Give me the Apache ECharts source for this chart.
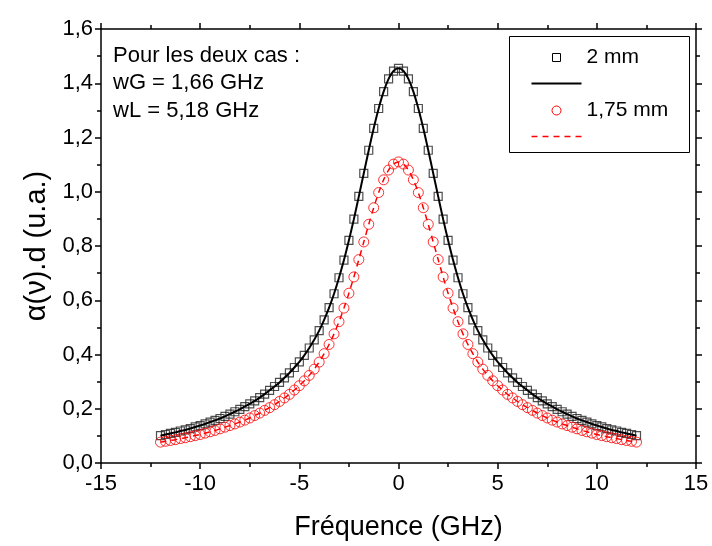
<!DOCTYPE html>
<html>
<head>
<meta charset="utf-8">
<script src="https://cdn.jsdelivr.net/npm/echarts@6/dist/echarts.min.js"></script>
<style>
html,body{margin:0;padding:0;background:#fff;}
#c{width:712px;height:546px;}
</style>
</head>
<body>
<div id="c"></div>
<script>
// Frequency grid (GHz)
var freq = [-12,-11.75,-11.5,-11.25,-11,-10.75,-10.5,-10.25,-10,-9.75,-9.5,-9.25,-9,-8.75,-8.5,-8.25,-8,-7.75,-7.5,-7.25,-7,-6.75,-6.5,-6.25,-6,-5.75,-5.5,-5.25,-5,-4.75,-4.5,-4.25,-4,-3.75,-3.5,-3.25,-3,-2.75,-2.5,-2.25,-2,-1.75,-1.5,-1.25,-1,-0.75,-0.5,-0.25,0,0.25,0.5,0.75,1,1.25,1.5,1.75,2,2.25,2.5,2.75,3,3.25,3.5,3.75,4,4.25,4.5,4.75,5,5.25,5.5,5.75,6,6.25,6.5,6.75,7,7.25,7.5,7.75,8,8.25,8.5,8.75,9,9.25,9.5,9.75,10,10.25,10.5,10.75,11,11.25,11.5,11.75,12];
// 2 mm (squares)
var val2mm = [0.101,0.105,0.109,0.113,0.118,0.122,0.127,0.133,0.138,0.144,0.151,0.157,0.164,0.172,0.180,0.189,0.198,0.208,0.218,0.229,0.241,0.254,0.268,0.282,0.297,0.314,0.332,0.352,0.373,0.397,0.424,0.454,0.488,0.528,0.573,0.624,0.683,0.748,0.821,0.899,0.983,1.068,1.153,1.234,1.307,1.369,1.416,1.445,1.455,1.445,1.416,1.369,1.307,1.234,1.153,1.068,0.983,0.899,0.821,0.748,0.683,0.624,0.573,0.528,0.488,0.454,0.424,0.397,0.373,0.352,0.332,0.314,0.297,0.282,0.268,0.254,0.241,0.229,0.218,0.208,0.198,0.189,0.180,0.172,0.164,0.157,0.151,0.144,0.138,0.133,0.127,0.122,0.118,0.113,0.109,0.105,0.101];
// 1,75 mm (circles)
var val175 = [0.077,0.080,0.083,0.086,0.090,0.093,0.097,0.101,0.105,0.110,0.115,0.120,0.126,0.132,0.138,0.144,0.151,0.158,0.166,0.175,0.184,0.194,0.204,0.215,0.227,0.240,0.253,0.269,0.285,0.303,0.323,0.346,0.372,0.403,0.437,0.476,0.521,0.571,0.626,0.686,0.750,0.815,0.880,0.941,0.997,1.044,1.080,1.102,1.110,1.102,1.080,1.044,0.997,0.941,0.880,0.815,0.750,0.686,0.626,0.571,0.521,0.476,0.437,0.403,0.372,0.346,0.323,0.303,0.285,0.269,0.253,0.240,0.227,0.215,0.204,0.194,0.184,0.175,0.166,0.158,0.151,0.144,0.138,0.132,0.126,0.120,0.115,0.110,0.105,0.101,0.097,0.093,0.090,0.086,0.083,0.080,0.077];
var fit2mm = val2mm;
var fit175 = val175;
var noteLines = ['Pour les deux cas :', 'wG = 1,66 GHz', 'wL = 5,18 GHz'];
var legendNames = ['2 mm', '1,75 mm'];

function pairs(xs, ys){ return xs.map(function(x,i){ return [x, ys[i]]; }); }
var FONT = 'Liberation Sans, Arial, sans-serif';
var comma = function(v){ return v.toFixed(1).replace('.', ','); };

var chart = echarts.init(document.getElementById('c'), null, {renderer:'canvas'});
var axisCommon = {
  axisLine:{show:true, onZero:false, lineStyle:{color:'#000', width:1.5}},
  axisTick:{show:true, inside:false, length:6, lineStyle:{color:'#000', width:1.5}},
  minorTick:{show:true, splitNumber:2, length:4, lineStyle:{color:'#000', width:1.5}},
  splitLine:{show:false}
};
var option = {
  backgroundColor:'#fff',
  animation:false,
  grid:{left:101, right:16, top:29, bottom:83, containLabel:false},
  xAxis:[
    Object.assign({type:'value', min:-15, max:15, interval:5, position:'bottom',
      name:'Fréquence (GHz)', nameLocation:'middle', nameGap:51,
      nameTextStyle:{fontFamily:FONT, fontSize:27, color:'#000'},
      axisLabel:{fontFamily:FONT, fontSize:22, color:'#000', margin:10}}, axisCommon),
    Object.assign({type:'value', min:-15, max:15, interval:5, position:'top',
      axisLabel:{show:false}}, axisCommon)
  ],
  yAxis:[
    Object.assign({type:'value', min:0, max:1.6, interval:0.2, position:'left',
      name:'α(ν).d (u.a.)', nameLocation:'middle', nameGap:50, nameRotate:90,
      nameTextStyle:{fontFamily:FONT, fontSize:29, color:'#000'},
      axisLabel:{fontFamily:FONT, fontSize:22, color:'#000', margin:8, formatter:comma}}, axisCommon),
    Object.assign({type:'value', min:0, max:1.6, interval:0.2, position:'right',
      axisLabel:{show:false}}, axisCommon)
  ],
  series:[
    {type:'line', name:'fit 2 mm', data:pairs(freq, fit2mm), smooth:0.3, showSymbol:false, symbol:'none',
      lineStyle:{color:'#000', width:2}, z:3},
    {type:'scatter', name:legendNames[0], data:pairs(freq, val2mm), symbol:'rect', symbolSize:8,
      itemStyle:{color:'rgba(0,0,0,0)', borderColor:'#222', borderWidth:1.2}, z:2},
    {type:'line', name:'fit 1,75 mm', data:pairs(freq, fit175), smooth:0.3, showSymbol:false, symbol:'none',
      lineStyle:{color:'#ff0000', width:1.5, type:[6,5]}, z:3},
    {type:'scatter', name:legendNames[1], data:pairs(freq, val175), symbol:'circle', symbolSize:10,
      itemStyle:{color:'rgba(0,0,0,0)', borderColor:'#ff0000', borderWidth:1}, z:2}
  ],
  graphic:[
    {type:'text', left:113, top:42, style:{text:noteLines.join('\n'), font:'22px '+FONT, fill:'#000', lineHeight:27.5}},
    {type:'group', left:509, top:36, children:[
      {type:'rect', shape:{x:0, y:0, width:180, height:116}, style:{fill:'#fff', stroke:'#000', lineWidth:1}},
      {type:'rect', shape:{x:43, y:17, width:8, height:8}, style:{fill:'none', stroke:'#000', lineWidth:1}},
      {type:'text', x:77, y:21, style:{text:legendNames[0], font:'21px '+FONT, fill:'#000', verticalAlign:'middle'}},
      {type:'line', shape:{x1:22, y1:47, x2:72, y2:47}, style:{stroke:'#000', lineWidth:2}},
      {type:'circle', shape:{cx:47, cy:74, r:4.5}, style:{fill:'none', stroke:'#ff0000', lineWidth:1}},
      {type:'text', x:77, y:74, style:{text:legendNames[1], font:'21px '+FONT, fill:'#000', verticalAlign:'middle'}},
      {type:'line', shape:{x1:22, y1:100, x2:72, y2:100}, style:{stroke:'#ff0000', lineWidth:1.5, lineDash:[6,5]}}
    ]}
  ]
};
chart.setOption(option);
</script>
</body>
</html>
